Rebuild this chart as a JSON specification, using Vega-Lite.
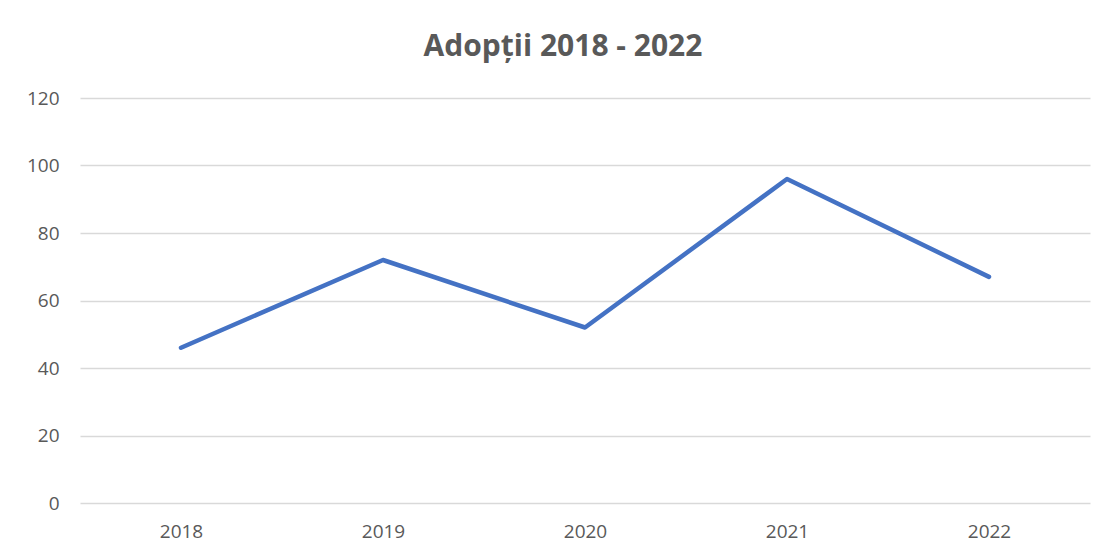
{
  "$schema": "https://vega.github.io/schema/vega-lite/v6.json",
  "width": 1010,
  "height": 405,
  "autosize": {"type": "none"},
  "padding": {"left": 80, "top": 98, "right": 15, "bottom": 55},
  "background": "#ffffff",
  "title": {
    "text": "Adopții 2018 - 2022",
    "font": "Open Sans",
    "fontSize": 30,
    "fontWeight": "bold",
    "color": "#595959",
    "anchor": "middle",
    "dx": -22,
    "offset": 27
  },
  "data": {
    "values": [
      {"an": "2018", "adoptii": 46},
      {"an": "2019", "adoptii": 72},
      {"an": "2020", "adoptii": 52},
      {"an": "2021", "adoptii": 96},
      {"an": "2022", "adoptii": 67}
    ]
  },
  "mark": {"type": "line", "color": "#4472c4", "strokeWidth": 4.5, "strokeCap": "round", "strokeJoin": "round"},
  "encoding": {
    "x": {
      "field": "an",
      "type": "ordinal",
      "scale": {"type": "point", "padding": 0.5},
      "axis": {
        "title": null,
        "labelAngle": 0,
        "ticks": false,
        "domain": false,
        "grid": false,
        "labelFont": "Open Sans",
        "labelFontSize": 19,
        "labelColor": "#595959",
        "labelPadding": 19
      }
    },
    "y": {
      "field": "adoptii",
      "type": "quantitative",
      "scale": {"domain": [0, 120]},
      "axis": {
        "title": null,
        "values": [0, 20, 40, 60, 80, 100, 120],
        "ticks": false,
        "domain": false,
        "gridColor": "#d9d9d9",
        "gridWidth": 1.3,
        "labelFont": "Open Sans",
        "labelFontSize": 19,
        "labelColor": "#595959",
        "labelPadding": 21
      }
    }
  },
  "config": {"view": {"stroke": null}}
}
